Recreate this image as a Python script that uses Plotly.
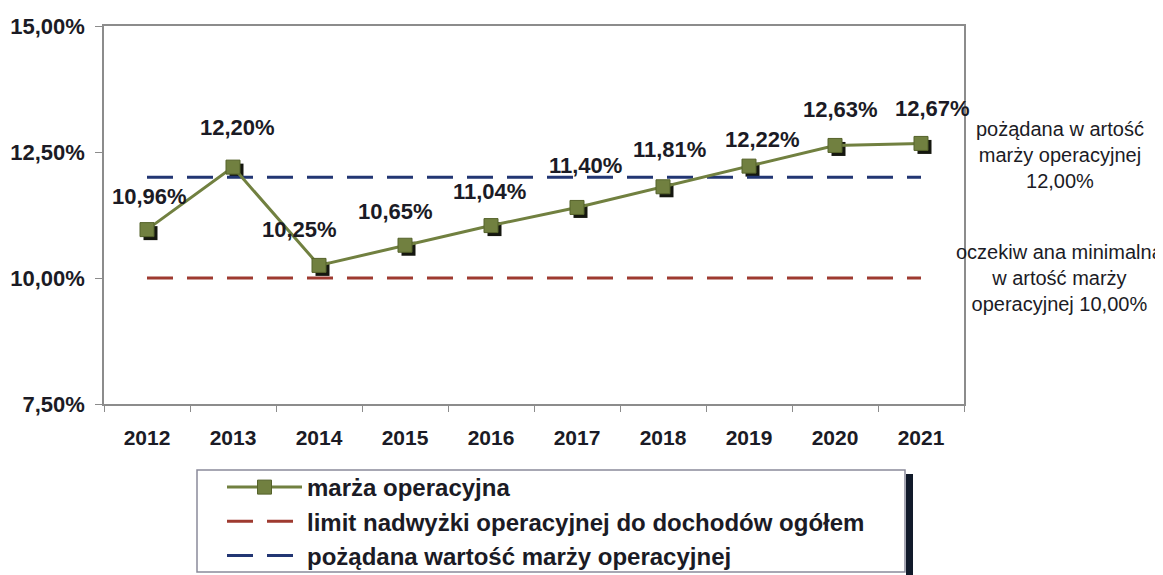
import plotly.graph_objects as go

years = ["2012", "2013", "2014", "2015", "2016", "2017", "2018", "2019", "2020", "2021"]
margin_vals = [10.96, 12.20, 10.25, 10.65, 11.04, 11.40, 11.81, 12.22, 12.63, 12.67]
limit_vals = [10.0] * 10
target_vals = [12.0] * 10
y_ticks = [7.5, 10.0, 12.5, 15.0]
y_tick_text = [f"{v:.2f}%".replace(".", ",") for v in y_ticks]
margin_labels = [f"{v:.2f}%".replace(".", ",") for v in margin_vals]

series_names = ["marża operacyjna",
                "limit nadwyżki operacyjnej do dochodów ogółem",
                "pożądana wartość marży operacyjnej"]
note_target = "pożądana w artość<br>marży operacyjnej<br>12,00%"
note_limit = "oczekiw ana minimalna<br>w artość marży<br>operacyjnej 10,00%"

# label offsets in pixels (style only)
lab_dx = [2, 4, -20, -10, -2, 8, 6, 13, 5, 11]
lab_dy = [33, 40, 36, 34, 34, 42, 37, 27, 36, 35]

GREEN = "#718040"
RED = "#9e3a30"
BLUE = "#223673"
TXT = "#1b1b25"
FONT = "Liberation Sans, Arial, sans-serif"

# page geometry (browser body has an 8px margin)
W, H = 1155, 567
L, T, PW, PH = 96, 18, 860, 378


def px(xpage):
    return (xpage - 8 - L) / PW


def py(ypage):
    return (T + PH - (ypage - 8)) / PH


idx = list(range(len(years)))
SH = 3.5  # shadow offset in px

fig = go.Figure()

# marker shadow on the hidden base axes (shifted range, drawn first/below)
fig.add_trace(go.Scatter(x=years, y=margin_vals, mode="markers",
                         showlegend=False, hoverinfo="skip", xaxis="x", yaxis="y",
                         marker=dict(symbol="square", size=14, color="#15170f")))
# visible chart on the overlay axes
fig.add_trace(go.Scatter(x=years, y=limit_vals, mode="lines", name=series_names[1],
                         legendrank=2, xaxis="x2", yaxis="y2",
                         line=dict(color=RED, width=3, dash="26px,14px")))
fig.add_trace(go.Scatter(x=years, y=target_vals, mode="lines", name=series_names[2],
                         legendrank=3, xaxis="x2", yaxis="y2",
                         line=dict(color=BLUE, width=3, dash="26px,14px")))
fig.add_trace(go.Scatter(x=years, y=margin_vals, mode="lines+markers",
                         name=series_names[0], legendrank=1,
                         xaxis="x2", yaxis="y2",
                         line=dict(color=GREEN, width=3),
                         marker=dict(symbol="square", size=14, color=GREEN,
                                     line=dict(color="#55622a", width=1))))

for i, v in enumerate(margin_vals):
    fig.add_annotation(x=idx[i], y=v, xref="x2", yref="y2", text=margin_labels[i],
                       showarrow=False, xanchor="center", yanchor="middle",
                       xshift=lab_dx[i], yshift=lab_dy[i],
                       font=dict(family=FONT, size=22, color=TXT, weight="bold"))

fig.add_annotation(xref="paper", yref="paper", x=px(1060), y=py(155),
                   xanchor="center", yanchor="middle",
                   text=note_target, showarrow=False, align="center",
                   font=dict(family=FONT, size=20, color=TXT))
fig.add_annotation(xref="paper", yref="paper", x=px(1060), y=py(278),
                   xanchor="center", yanchor="middle",
                   text=note_limit, showarrow=False, align="center",
                   font=dict(family=FONT, size=20, color=TXT))

# legend box and its shadow
fig.add_shape(type="rect", xref="paper", yref="paper",
              x0=px(906), x1=px(913), y0=py(640), y1=py(474),
              fillcolor="#111a2a", line=dict(width=0), layer="above")
fig.add_shape(type="rect", xref="paper", yref="paper",
              x0=px(197), x1=px(905), y0=py(572), y1=py(470),
              fillcolor="rgba(0,0,0,0)", line=dict(color="#8a8a9a", width=1.5), layer="above")

axis_common = dict(showgrid=False, automargin=False, zeroline=False,
                   showline=True, linecolor="#8c8c8c", linewidth=1.5, mirror=True,
                   ticks="outside", tickcolor="#8c8c8c")

fig.update_layout(
    width=W, height=H,
    margin=dict(l=L, r=W - L - PW, t=T, b=H - T - PH, autoexpand=False),
    paper_bgcolor="white", plot_bgcolor="white",
    showlegend=True,
    legend=dict(x=px(222), y=py(465), xanchor="left", yanchor="top",
                bgcolor="rgba(0,0,0,0)", borderwidth=0, traceorder="normal",
                font=dict(family=FONT, size=24, color=TXT, weight="bold"),
                itemwidth=75),
    # hidden base axes: shifted so the shadow sits down-right of each marker
    xaxis=dict(type="category", range=[-0.5 - SH / 86, 9.5 - SH / 86], visible=False),
    yaxis=dict(range=[7.5 + SH * 7.5 / 378, 15 + SH * 7.5 / 378], visible=False),
    xaxis2=dict(type="category", overlaying="x", anchor="y", range=[-0.5, 9.5],
                tickson="boundaries", ticklen=6, ticklabelstandoff=14,
                tickfont=dict(family=FONT, size=21, color=TXT, weight="bold"),
                **axis_common),
    yaxis2=dict(overlaying="y", anchor="x", side="left", range=[7.5, 15],
                tickvals=y_ticks, ticktext=y_tick_text,
                ticklen=7, ticklabelstandoff=6,
                tickfont=dict(family=FONT, size=22, color=TXT, weight="bold"),
                **axis_common),
)

fig.write_html("out.html")
